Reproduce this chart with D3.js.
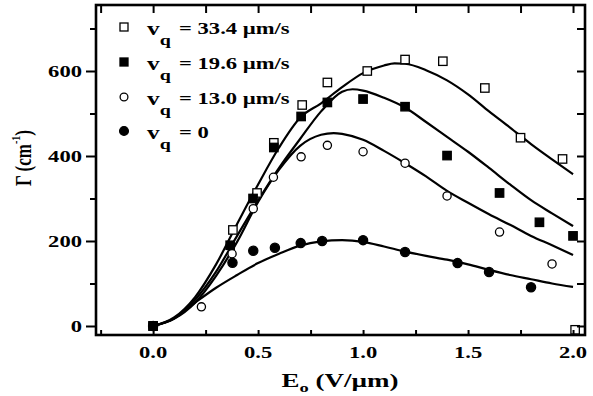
<!DOCTYPE html>
<html><head><meta charset="utf-8">
<script src="https://cdn.jsdelivr.net/npm/d3@7/dist/d3.min.js"></script>
<style>body{margin:0;background:#fff}svg{display:block}text{font-family:"Liberation Serif","Times New Roman",serif;font-weight:bold;fill:#000}</style>
</head><body>
<svg id="c" width="593" height="396"></svg>
<script>
// ---- data ----
const xTicks = [0.0, 0.5, 1.0, 1.5, 2.0];
const xTickLabels = ["0.0", "0.5", "1.0", "1.5", "2.0"];
const yTicks = [0, 200, 400, 600];
const yTickLabels = ["0", "200", "400", "600"];
const legendLabels = ["= 33.4 \u00b5m/s", "= 19.6 \u00b5m/s", "= 13.0 \u00b5m/s", "= 0"];

// measured points [E0, Gamma]
const pts334 = [[0,0],[0.38,226],[0.495,313],[0.575,431],[0.71,520],[0.83,573],[1.02,600],[1.2,627],[1.38,623],[1.58,560],[1.75,443],[1.95,393],[2.01,-9]];
const pts196 = [[0,0],[0.367,190],[0.476,300],[0.575,420],[0.705,493],[0.83,526],[1.0,534],[1.2,516],[1.4,401],[1.65,313],[1.84,244],[2.0,212]];
const pts130 = [[0,0],[0.23,45],[0.376,170],[0.477,276],[0.573,350],[0.705,398],[0.83,425],[1.0,410],[1.2,383],[1.4,306],[1.65,221],[1.9,146]];
const pts0   = [[0,0],[0.378,149],[0.477,177],[0.58,184],[0.703,195],[0.805,200],[1.0,202],[1.2,174],[1.45,148],[1.6,127],[1.8,91]];

// fitted curves [E0, Gamma]
const fit334 = [[0,0],[0.1,20],[0.2,68],[0.3,145],[0.4,240],[0.5,333],[0.6,420],[0.7,490],[0.8,524],[0.9,562],[1.0,595],[1.1,613],[1.15,618],[1.2,617],[1.3,602],[1.4,578],[1.5,545],[1.6,505],[1.7,467],[1.8,428],[1.9,392],[2.0,357]];
const fit196 = [[0,0],[0.1,18],[0.2,62],[0.3,128],[0.4,212],[0.5,295],[0.6,372],[0.7,440],[0.8,505],[0.9,551],[0.95,557],[1.0,554],[1.1,537],[1.2,514],[1.3,480],[1.4,445],[1.5,410],[1.6,372],[1.7,333],[1.8,296],[1.9,265],[2.0,235]];
const fit130 = [[0,0],[0.1,17],[0.2,55],[0.3,118],[0.4,198],[0.5,292],[0.6,368],[0.7,424],[0.8,450],[0.86,454],[0.9,452],[1.0,438],[1.1,412],[1.2,383],[1.3,352],[1.4,318],[1.5,290],[1.6,263],[1.7,238],[1.8,212],[1.9,190],[2.0,167]];
const fit0   = [[0,0],[0.1,18],[0.2,55],[0.3,90],[0.4,120],[0.5,148],[0.6,170],[0.7,189],[0.8,199],[0.9,202],[1.0,198],[1.1,187],[1.2,175],[1.3,165],[1.4,156],[1.5,145],[1.6,132],[1.7,120],[1.8,110],[1.9,100],[2.0,92]];

// ---- drawing ----
const svg = d3.select("#c");
const L = 96, R = 585, T = 5, B = 335;
const SX = 1.33; // horizontal stretch of the lettering
const x = d3.scaleLinear().domain([-0.272, 2.057]).range([L, R]);
const y = d3.scaleLinear().domain([-21.2, 755.3]).range([B, T]);

const line = d3.line().x(d => x(d[0])).y(d => y(d[1])).curve(d3.curveMonotoneX);
const plot = svg.append("g");
[fit334, fit196, fit130, fit0].forEach(f => {
  plot.append("path").attr("d", line(f)).attr("fill", "none").attr("stroke", "#000").attr("stroke-width", 2.2);
});

function square(g, data, filled) {
  g.selectAll(null).data(data).enter().append("rect")
    .attr("x", d => x(d[0]) - 4.2).attr("y", d => y(d[1]) - 4.2)
    .attr("width", 8.4).attr("height", 8.4)
    .attr("fill", filled ? "#000" : "#fff").attr("stroke", "#000").attr("stroke-width", 1.3);
}
function circle(g, data, filled) {
  g.selectAll(null).data(data).enter().append("circle")
    .attr("cx", d => x(d[0])).attr("cy", d => y(d[1])).attr("r", filled ? 4.6 : 4.1)
    .attr("fill", filled ? "#000" : "#fff").attr("stroke", "#000").attr("stroke-width", 1.3);
}
square(plot, pts334, false);
square(plot, pts196, true);
circle(plot, pts130, false);
circle(plot, pts0, true);

// axes
const ax = svg.append("g");
const xMinor = d3.range(-0.25, 2.01, 0.25);
const yMinor = d3.range(0, 701, 100);
const xb = d3.axisBottom(x).tickValues(xMinor).tickSize(-5).tickFormat("");
ax.append("g").attr("transform", `translate(0,${B})`).call(xb);
const xt = d3.axisTop(x).tickValues(xMinor).tickSize(-8).tickFormat("");
ax.append("g").attr("transform", `translate(0,${T})`).call(xt);
const yl = d3.axisLeft(y).tickValues(yMinor).tickSize(0).tickFormat("");
const gl = ax.append("g").attr("transform", `translate(${L},0)`).call(yl);
gl.selectAll(".tick line").attr("x2", d => (d % 200 === 0) ? -10 : -6);
const yr = d3.axisRight(y).tickValues(yMinor).tickSize(-8).tickFormat("");
ax.append("g").attr("transform", `translate(${R},0)`).call(yr);
ax.selectAll(".domain").remove();
ax.selectAll(".tick line").attr("stroke", "#000").attr("stroke-width", 2);
ax.append("rect").attr("x", L).attr("y", T).attr("width", R - L).attr("height", B - T)
  .attr("fill", "none").attr("stroke", "#000").attr("stroke-width", 2.6);

// tick labels
svg.selectAll(null).data(xTicks).enter().append("text")
  .attr("transform", d => `translate(${x(d)},358) scale(${SX},1)`).attr("text-anchor", "middle")
  .attr("font-size", 17).text((d, i) => xTickLabels[i]);
svg.selectAll(null).data(yTicks).enter().append("text")
  .attr("transform", d => `translate(82,${y(d) + 6}) scale(${SX},1)`).attr("text-anchor", "end")
  .attr("font-size", 17).text((d, i) => yTickLabels[i]);

// axis titles
const xt2 = svg.append("text").attr("transform", `translate(340,387) scale(1.42,1)`)
  .attr("text-anchor", "middle").attr("font-size", 19);
xt2.append("tspan").text("E");
xt2.append("tspan").attr("font-size", 13).attr("dy", 5).text("o");
xt2.append("tspan").attr("dy", -5).text(" (V/\u00b5m)");

const yt2 = svg.append("text").attr("transform", `translate(31,158) scale(${SX},1) rotate(-90)`)
  .attr("text-anchor", "middle").attr("font-size", 17);
yt2.append("tspan").text("\u0393 (cm");
yt2.append("tspan").attr("font-size", 10).attr("dy", -8).text("-1");
yt2.append("tspan").attr("dy", 8).text(")");

// legend
const leg = svg.append("g");
const rowsY = [27, 62, 97, 131];
const kinds = [["sq", false], ["sq", true], ["ci", false], ["ci", true]];
rowsY.forEach((ry, i) => {
  const [k, f] = kinds[i];
  if (k === "sq") leg.append("rect").attr("x", 124 - 4).attr("y", ry - 4).attr("width", 8).attr("height", 8)
      .attr("fill", f ? "#000" : "#fff").attr("stroke", "#000").attr("stroke-width", 1.3);
  else leg.append("circle").attr("cx", 124).attr("cy", ry).attr("r", f ? 4.4 : 3.9)
      .attr("fill", f ? "#000" : "#fff").attr("stroke", "#000").attr("stroke-width", 1.3);
  const t = leg.append("text").attr("transform", `translate(147,${ry + 8}) scale(${SX},1)`).attr("font-size", 19);
  t.append("tspan").text("v");
  t.append("tspan").attr("font-size", 15).attr("dy", 10).text("q");
  t.append("tspan").attr("x", (179 - 147) / SX).attr("dy", -11).attr("font-size", 17).text(legendLabels[i]);
});
</script>
</body></html>
